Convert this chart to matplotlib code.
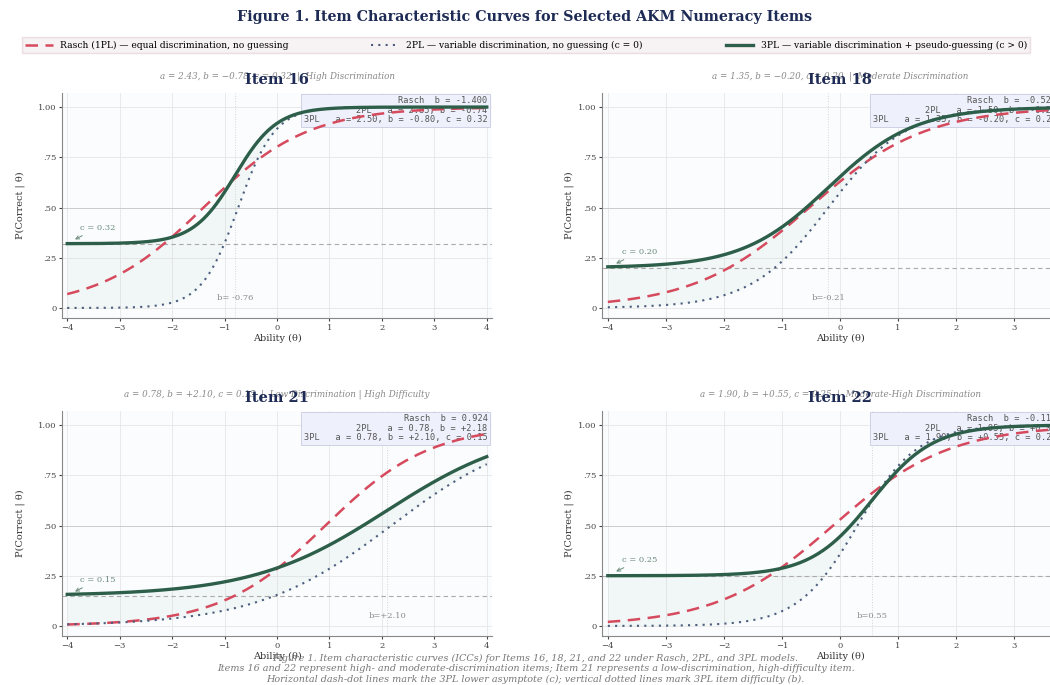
import numpy as np
import matplotlib
matplotlib.use("Agg")
import matplotlib.pyplot as plt

plt.rcParams['font.family'] = ['DejaVu Serif']

# ---- data ----
items = ["Item 16", "Item 18", "Item 21", "Item 22"]
subtitles = [
    "a = 2.43, b = \u22120.78, c = 0.32  |  High Discrimination",
    "a = 1.35, b = \u22120.20, c = 0.20  |  Moderate Discrimination",
    "a = 0.78, b = +2.10, c = 0.15  |  Low Discrimination | High Difficulty",
    "a = 1.90, b = +0.55, c = 0.25  |  Moderate-High Discrimination",
]
rasch_b = [-1.400, -0.528, 0.924, -0.118]
twopl_a = [2.85, 1.50, 0.78, 1.95]
twopl_b = [-0.74, -0.20, 2.18, 0.30]
threepl_a = [2.50, 1.35, 0.78, 1.90]
threepl_b = [-0.80, -0.20, 2.10, 0.55]
threepl_c = [0.32, 0.20, 0.15, 0.25]
b_labels = ["b= -0.76", "b=-0.21", "b=+2.10", "b=0.55"]
xticks = [-4, -3, -2, -1, 0, 1, 2, 3, 4]
yticks = [0, 0.25, 0.5, 0.75, 1.0]
ytick_labels = ["0", ".25", ".50", ".75", "1.00"]

legend_labels = [
    "Rasch (1PL) \u2014 equal discrimination, no guessing",
    "2PL \u2014 variable discrimination, no guessing (c = 0)",
    "3PL \u2014 variable discrimination + pseudo-guessing (c > 0)",
]
caption = ("Figure 1. Item characteristic curves (ICCs) for Items 16, 18, 21, and 22 under Rasch, 2PL, and 3PL models.\n"
           "Items 16 and 22 represent high- and moderate-discrimination items; Item 21 represents a low-discrimination, high-difficulty item.\n"
           "Horizontal dash-dot lines mark the 3PL lower asymptote (c); vertical dotted lines mark 3PL item difficulty (b).")

RED = "#d64a5e"
BLUE = "#4d5d7d"
GREEN = "#2d5e4a"
NAVY = "#1e2b55"
GRAY = "#8a8a8a"

def logistic(z):
    return 1.0 / (1.0 + np.exp(-z))

W, H = 1050, 685
fig = plt.figure(figsize=(W / 100, H / 100), dpi=100)
fig.patch.set_facecolor("white")

# axes rectangles in pixels: (left, top, width, height)
rects = [(62, 93, 430, 225), (602, 93, 476, 225), (62, 411, 430, 225), (602, 411, 476, 225)]
box_x = [0.99, 0.955, 0.99, 0.955]
ylab_pad = [9, 3, 9, 3]

theta = np.linspace(-4, 4, 400)
handles = None
for i, (l, t, w, h) in enumerate(rects):
    ax = fig.add_axes([l / W, 1 - (t + h) / H, w / W, h / H])
    ax.set_facecolor("#fbfcfd")
    p1 = logistic(theta - rasch_b[i])
    p2 = logistic(twopl_a[i] * (theta - twopl_b[i]))
    c = threepl_c[i]
    p3 = c + (1 - c) * logistic(threepl_a[i] * (theta - threepl_b[i]))
    ax.fill_between(theta, p2, p3, color="#a8d8c8", alpha=0.12, lw=0, zorder=1)
    l1, = ax.plot(theta, p1, color=RED, ls=(0, (5, 3)), lw=1.8, zorder=4)
    l2, = ax.plot(theta, p2, color=BLUE, ls=(0, (1, 2.5)), lw=1.5, zorder=4)
    l3, = ax.plot(theta, p3, color=GREEN, ls="-", lw=2.4, zorder=5)
    handles = [l1, l2, l3]
    ax.axhline(c, color="#aaaaaa", ls=(0, (4, 3)), lw=0.8, zorder=2)
    ax.axvline(threepl_b[i], color="#bbbbbb", ls=":", lw=0.7, alpha=0.6, zorder=2)
    ax.axhline(0.5, color="#cccccc", lw=0.7, zorder=1)
    ax.annotate(f"c = {c:.2f}", xy=(-3.9, c + 0.015), xytext=(-3.75, c + 0.07),
                fontsize=6, color="#6a8a7a",
                arrowprops=dict(arrowstyle="->", color="#6a8a7a", lw=0.7), zorder=6)
    ax.text(threepl_b[i], 0.05, b_labels[i], fontsize=6, color=GRAY, ha="center", va="center", zorder=6)
    box_txt = (f"Rasch  b = {rasch_b[i]:.3f}\n"
               f"2PL   a = {twopl_a[i]:.2f}, b = {twopl_b[i]:+.2f}\n"
               f"3PL   a = {threepl_a[i]:.2f}, b = {threepl_b[i]:+.2f}, c = {c:.2f}")
    ax.text(box_x[i], 0.985, box_txt, transform=ax.transAxes, ha="right", va="top",
            fontsize=6.2, family="DejaVu Sans Mono", color="#555555", linespacing=1.05,
            bbox=dict(boxstyle="square,pad=0.3", fc="#eef1fb", ec="#c8cce0", lw=0.6), zorder=3)
    ax.set_xlim(-4.1, 4.1)
    ax.set_ylim(-0.05, 1.07)
    ax.set_xticks(xticks)
    ax.set_yticks(yticks)
    ax.set_yticklabels(ytick_labels)
    ax.tick_params(labelsize=6, colors="#444444", length=2.5, pad=1.5)
    ax.grid(True, color="#e6e6e6", lw=0.6, zorder=0)
    ax.set_axisbelow(True)
    for s in ["top", "right"]:
        ax.spines[s].set_visible(False)
    for s in ["left", "bottom"]:
        ax.spines[s].set_color("#888888")
        ax.spines[s].set_linewidth(0.8)
    ax.set_xlabel("Ability (\u03b8)", fontsize=7, color="#333333", labelpad=1.5)
    ax.set_ylabel("P(Correct | \u03b8)", fontsize=7, color="#333333", labelpad=ylab_pad[i])
    ax.text(0.5, 1.075, subtitles[i], transform=ax.transAxes, ha="center", va="center",
            fontsize=6.3, style="italic", color="#888888")
    ax.text(0.5, 1.058, items[i], transform=ax.transAxes, ha="center", va="center",
            fontsize=10.5, fontweight="bold", color=NAVY)

fig.text(0.5, 1 - 17 / H, "Figure 1. Item Characteristic Curves for Selected AKM Numeracy Items",
         ha="center", va="center", fontsize=10.3, fontweight="bold", color=NAVY)
leg = fig.legend(handles, legend_labels, loc="lower left",
                 bbox_to_anchor=(22 / W, 1 - 53 / H, 1008 / W, 16 / H), mode="expand", ncol=3,
                 fontsize=6.6, frameon=True, fancybox=False, handlelength=3,
                 borderpad=0.35, borderaxespad=0)
leg.get_frame().set_facecolor("#f6eff2")
leg.get_frame().set_edgecolor("#e8d8de")
fig.text(0.51, 1 - 669 / H, caption, ha="center", va="center", fontsize=6.9, style="italic",
         color="#777777", linespacing=1.2)

fig.savefig("out.png", dpi=100)
